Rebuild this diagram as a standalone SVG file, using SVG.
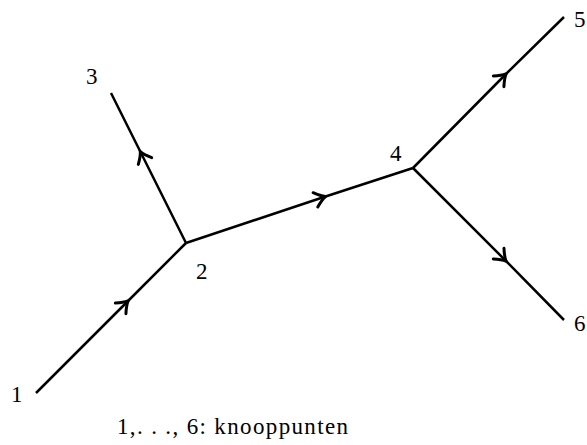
<svg xmlns="http://www.w3.org/2000/svg" width="587" height="445" viewBox="0 0 587 445">
<style>
.e{fill:none;stroke:#000;stroke-width:2.5;marker-mid:url(#ah)}
.t{font-size:23px;fill:#000}
</style>
<defs>
<marker id="ah" markerUnits="userSpaceOnUse" viewBox="-12 -10 16 20" markerWidth="16" markerHeight="20" refX="0" refY="0" orient="auto" overflow="visible">
<path d="M-9,-7.5 Q-3,-2 1.5,0 Q-3,2 -9,7.5" fill="none" stroke="#000" stroke-width="3" stroke-linecap="round"/>
</marker>
</defs>
<rect width="587" height="445" fill="#fff"/>
<g id="connectors">
<polyline class="e" points="36,393 127,302 186,243"/>
<polyline class="e" points="186,243 141,153 111,93"/>
<polyline class="e" points="186,243 324,197 413,168"/>
<polyline class="e" points="413,168 505,75 564,17"/>
<polyline class="e" points="413,168 505,260 564,320"/>
</g>
<g font-family="Liberation Serif, Times New Roman, serif">
<g id="n1"><text class="t" x="11" y="402">1</text></g>
<g id="n2"><text class="t" x="196" y="279">2</text></g>
<g id="n3"><text class="t" x="86" y="84">3</text></g>
<g id="n4"><text class="t" x="390" y="161">4</text></g>
<g id="n5"><text class="t" x="574" y="27">5</text></g>
<g id="n6"><text class="t" x="574" y="331">6</text></g>
<g id="caption"><text class="t" x="117" y="434" textLength="231" lengthAdjust="spacing">1,. . ., 6:  knooppunten</text></g>
</g>
</svg>
